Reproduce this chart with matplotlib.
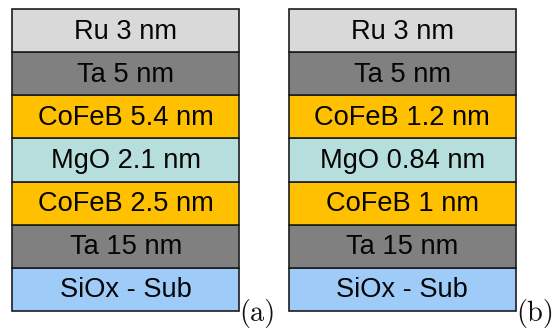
import matplotlib
matplotlib.use("Agg")
import matplotlib.pyplot as plt

# Layer stacks, listed from substrate (bottom) to capping layer (top)
materials = ["SiOx - Sub", "Ta", "CoFeB", "MgO", "CoFeB", "Ta", "Ru"]
thick_a = [None, 15, 2.5, 2.1, 5.4, 5, 3]
thick_b = [None, 15, 1, 0.84, 1.2, 5, 3]
panel_labels = ["(a)", "(b)"]

colors = {
    "SiOx - Sub": "#9ECBF7",
    "Ta": "#808080",
    "CoFeB": "#FFC000",
    "MgO": "#B6DEDD",
    "Ru": "#D9D9D9",
}


def layer_text(name, t):
    if t is None:
        return name
    return f"{name} {t:g} nm"


fig = plt.figure(figsize=(5.55, 3.33), dpi=100)
ax = fig.add_axes([0, 0, 1, 1])

width = 0.821
for xpos, thick, lab in zip([0, 1], [thick_a, thick_b], panel_labels):
    for i, (name, t) in enumerate(zip(materials, thick)):
        ax.bar(xpos, 1, bottom=i, width=width, color=colors[name],
               edgecolor="#1c1c1c", linewidth=1.2, zorder=2)
        ax.text(xpos, i + 0.47, layer_text(name, t), ha="center", va="center",
                fontsize=19.6, family="Liberation Sans", color="#050505", zorder=3)
    ax.text(xpos + width / 2, -0.06, lab, ha="left", va="center",
            fontsize=20.5, family="cmr10", color="#111111")

ax.set_xlim(-0.4549, 1.552)
ax.set_ylim(-0.518, 7.2156)
ax.axis("off")

fig.savefig("out.png", dpi=100)
